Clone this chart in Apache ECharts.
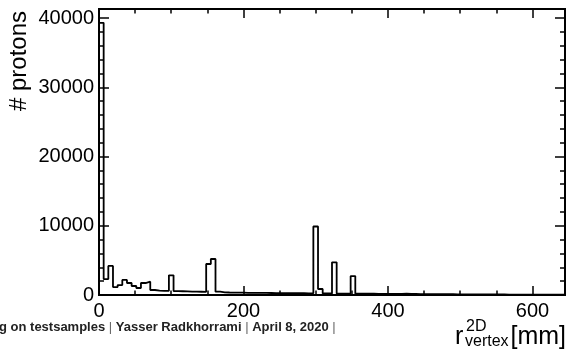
<!DOCTYPE html>
<html><head><meta charset="utf-8">
<script src="https://cdn.jsdelivr.net/npm/echarts@6/dist/echarts.min.js"></script>
<style>html,body{margin:0;padding:0;background:#fff;}#c{width:569px;height:350px;}</style>
</head><body><div id="c"></div>
<script>
// histogram definition
const histMin = 0;
const histMax = 645;
const nBins = 100;
const counts = [
  39300, 2300, 4200, 1150, 1440, 2170, 1730, 1300, 1010, 1730,
  1920, 720, 620, 600, 600, 2840, 560, 540, 520, 500,
  480, 470, 460, 4480, 5200, 480, 380, 360, 350, 340,
  330, 320, 320, 310, 300, 300, 290, 280, 280, 270,
  260, 260, 250, 250, 240, 240, 9890, 870, 230, 220,
  4720, 210, 200, 200, 2740, 190, 190, 180, 180, 170,
  170, 160, 160, 150, 170, 180, 160, 150, 140, 140,
  130, 130, 120, 120, 110, 110, 100, 100, 90, 90,
  90, 80, 80, 80, 70, 70, 70, 60, 60, 60,
  60, 50, 50, 50, 50, 40, 40, 40, 40, 40
];
const xTickLabels = ['0', '200', '400', '600'];
const yTickLabels = ['0', '10000', '20000', '30000', '40000'];
const yMax = 41300;
const xTitle = { base: 'r', sup: '2D', sub: 'vertex', unit: '[mm]' };
const yTitle = '# protons';
const footer = ['g on testsamples', 'Yasser Radkhorrami', 'April 8, 2020'];

const binW = (histMax - histMin) / nBins;
const pts = [[histMin, 0]];
counts.forEach((c, i) => pts.push([histMin + i * binW, c]));
pts.push([histMax, counts[counts.length - 1]]);
pts.push([histMax, 0]);

const FONT = 'Liberation Sans, Arial, Helvetica, sans-serif';
const black = '#000';

function axisBase(extra) {
  return Object.assign({
    type: 'value', gridIndex: 0,
    splitLine: { show: false },
    axisLine: { show: true, onZero: false, lineStyle: { color: black, width: 2 } },
    axisLabel: { show: false },
  }, extra);
}

const xAxes = [
  axisBase({ position: 'bottom', min: histMin, max: histMax, interval: 200,
    axisTick: { inside: true, length: 9, lineStyle: { color: black, width: 1.5 } },
    axisLabel: { show: true, fontSize: 20, color: black, fontFamily: FONT, margin: 6,
      showMaxLabel: false,
      formatter: v => xTickLabels.includes(String(v)) ? String(v) : '' } }),
  axisBase({ position: 'bottom', min: histMin, max: histMax, interval: 50,
    axisTick: { inside: true, length: 4.5, lineStyle: { color: black, width: 1.5 } } }),
  axisBase({ position: 'top', min: histMin, max: histMax, interval: 200,
    axisTick: { inside: true, length: 9, lineStyle: { color: black, width: 1.5 } } }),
  axisBase({ position: 'top', min: histMin, max: histMax, interval: 50,
    axisTick: { inside: true, length: 4.5, lineStyle: { color: black, width: 1.5 } } })
];
const yAxes = [
  axisBase({ position: 'left', min: 0, max: yMax, interval: 10000,
    axisTick: { inside: true, length: 10, lineStyle: { color: black, width: 1.5 } },
    axisLabel: { show: true, fontSize: 20, color: black, fontFamily: FONT, margin: 5,
      showMaxLabel: false,
      formatter: v => yTickLabels.includes(String(v)) ? String(v) : '' } }),
  axisBase({ position: 'left', min: 0, max: yMax, interval: 2000,
    axisTick: { inside: true, length: 5, lineStyle: { color: black, width: 1.5 } } }),
  axisBase({ position: 'right', min: 0, max: yMax, interval: 10000,
    axisTick: { inside: true, length: 10, lineStyle: { color: black, width: 1.5 } } }),
  axisBase({ position: 'right', min: 0, max: yMax, interval: 2000,
    axisTick: { inside: true, length: 5, lineStyle: { color: black, width: 1.5 } } })
];

const chart = echarts.init(document.getElementById('c'), null, { renderer: 'canvas' });
chart.setOption({
  backgroundColor: '#fff',
  animation: false,
  grid: { left: 99, right: 4, top: 9, bottom: 55, containLabel: false },
  xAxis: xAxes,
  yAxis: yAxes,
  series: [{
    type: 'line', xAxisIndex: 0, yAxisIndex: 0,
    data: pts, step: 'end', symbol: 'none',
    lineStyle: { color: black, width: 1.8 }, z: 1
  }],
  graphic: [
    { type: 'text', x: 19, y: 11, rotation: Math.PI / 2,
      style: { text: yTitle, fontSize: 24, fontFamily: FONT, fill: black,
        textAlign: 'right', textVerticalAlign: 'middle' } },
    { type: 'text', x: 455, y: 337,
      style: { text: xTitle.base, fontSize: 25, fontFamily: FONT, fill: black,
        textAlign: 'left', textVerticalAlign: 'middle' } },
    { type: 'text', x: 466, y: 327,
      style: { text: xTitle.sup, fontSize: 16, fontFamily: FONT, fill: black,
        textAlign: 'left', textVerticalAlign: 'middle' } },
    { type: 'text', x: 465, y: 342,
      style: { text: xTitle.sub, fontSize: 16, fontFamily: FONT, fill: black,
        textAlign: 'left', textVerticalAlign: 'middle' } },
    { type: 'text', x: 566, y: 337,
      style: { text: xTitle.unit, fontSize: 25, fontFamily: FONT, fill: black,
        textAlign: 'right', textVerticalAlign: 'middle' } },
    { type: 'text', x: -1, y: 327,
      style: {
        text: '{b|' + footer[0] + '} {s||} {b|' + footer[1] + '} {s||} {b|' + footer[2] + '} {s||}',
        fontSize: 13, fontFamily: FONT, textVerticalAlign: 'middle', textAlign: 'left',
        rich: {
          b: { fontSize: 13, fontWeight: 'bold', fill: '#222', fontFamily: FONT },
          s: { fontSize: 13, fill: '#666', fontFamily: FONT }
        }
      } }
  ]
});
</script></body></html>
